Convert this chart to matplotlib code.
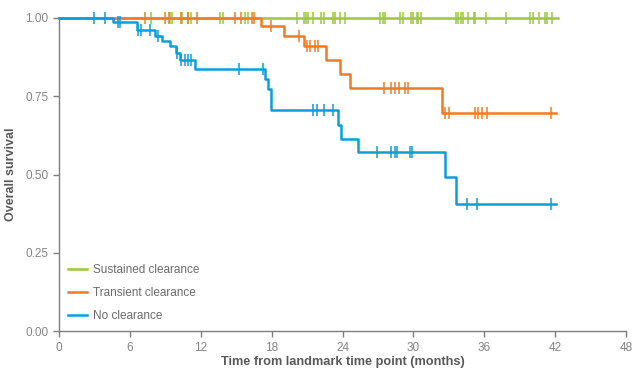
import matplotlib
matplotlib.use("Agg")
import matplotlib.pyplot as plt
import numpy as np

plt.rcParams['font.family'] = ['Liberation Sans', 'DejaVu Sans']

## Kaplan-Meier curves: event times + survival after each step
groups = ['Sustained clearance', 'Transient clearance', 'No clearance']
colors = ['#9bc93b', '#f47a20', '#0a9edb']

sus_t = [0.0]
sus_s = [1.0]
sus_cens = [7.8, 9.4, 9.6, 10.4, 10.9, 11.2, 13.6, 13.9, 15.7, 16.0, 20.1, 20.7, 20.9,
            21.1, 21.5, 22.2, 22.4, 23.2, 23.4, 23.8, 24.2, 27.2, 27.4, 27.6, 28.9, 29.1,
            29.8, 30.0, 30.3, 30.4, 30.6, 33.6, 33.8, 34.0, 34.2, 34.6, 35.1, 35.2, 36.1,
            37.8, 39.9, 40.1, 40.6, 41.1, 41.3, 41.7]
sus_end = 42.2

tra_t = [0.0, 17.1, 19.0, 20.7, 22.6, 23.8, 24.6, 32.4]
tra_s = [1.0, 0.973, 0.943, 0.912, 0.865, 0.821, 0.776, 0.697]
tra_cens = [7.3, 9.0, 9.3, 10.3, 10.9, 11.7, 14.9, 15.4, 16.3, 16.5, 17.9, 20.3, 21.0,
            21.2, 21.7, 21.9, 27.5, 28.1, 28.4, 28.8, 29.3, 29.5, 32.7, 33.0, 35.2, 35.5,
            35.8, 36.2, 41.6]
tra_end = 42.1

no_t = [0.0, 4.6, 6.6, 8.1, 8.7, 9.4, 9.9, 10.2, 11.5, 17.4, 17.7, 17.9, 23.65, 23.9,
        25.3, 32.7, 33.6]
no_s = [1.0, 0.986, 0.961, 0.944, 0.925, 0.91, 0.888, 0.867, 0.838, 0.805, 0.773, 0.706,
        0.658, 0.613, 0.573, 0.491, 0.406]
no_cens = [3.0, 3.9, 5.0, 5.2, 6.7, 6.9, 7.7, 8.4, 10.0, 10.3, 10.7, 10.9, 11.2, 15.2,
           17.3, 21.5, 21.8, 22.4, 23.2, 26.9, 28.1, 28.4, 28.6, 29.7, 29.9, 34.5, 35.4, 41.6]
no_end = 42.1

series = [(sus_t, sus_s, sus_cens, sus_end),
          (tra_t, tra_s, tra_cens, tra_end),
          (no_t, no_s, no_cens, no_end)]

fig = plt.figure(figsize=(6.35, 3.75), dpi=100)
ax = fig.add_axes([0.093, 0.117, 0.893, 0.835])

for i, (t, s, cens, end) in enumerate(series):
    t = np.array(t + [end])
    s = np.array(s + [s[-1]])
    ax.step(t, s, where='post', color=colors[i], lw=1.8, label=groups[i],
            zorder=2 + i, clip_on=False)
    cs = s[np.searchsorted(t, cens, side='right') - 1]
    ax.plot(cens, cs, ls='none', marker='|', ms=8, mew=1.1, color=colors[i],
            zorder=2 + i, clip_on=False)

ax.set_xlim(0, 48)
ax.set_ylim(0, 1.0)
ax.set_xticks(np.arange(0, 49, 6))
ax.set_yticks([0, 0.25, 0.5, 0.75, 1.0])
ax.set_yticklabels(['0.00', '0.25', '0.50', '0.75', '1.00'])
for sp in ['top', 'right']:
    ax.spines[sp].set_visible(False)
for sp in ['left', 'bottom']:
    ax.spines[sp].set_color('#7f7f7f')
    ax.spines[sp].set_linewidth(1.0)
ax.tick_params(colors='#7f7f7f', labelcolor='#858585', labelsize=8.5, length=4, width=1.0)

ax.set_xlabel('Time from landmark time point (months)', fontsize=9.2, fontweight='bold',
              color='#595959', labelpad=2)
ax.set_ylabel('Overall survival', fontsize=9, fontweight='bold', color='#595959',
              labelpad=6)

leg = ax.legend(loc='lower left', bbox_to_anchor=(0.0, 0.0), frameon=False, fontsize=8.5,
                handlelength=1.6, handletextpad=0.5, labelspacing=0.9, borderaxespad=0.4)
for txt in leg.get_texts():
    txt.set_color('#6b6b6b')

fig.savefig('out.png', dpi=100)
